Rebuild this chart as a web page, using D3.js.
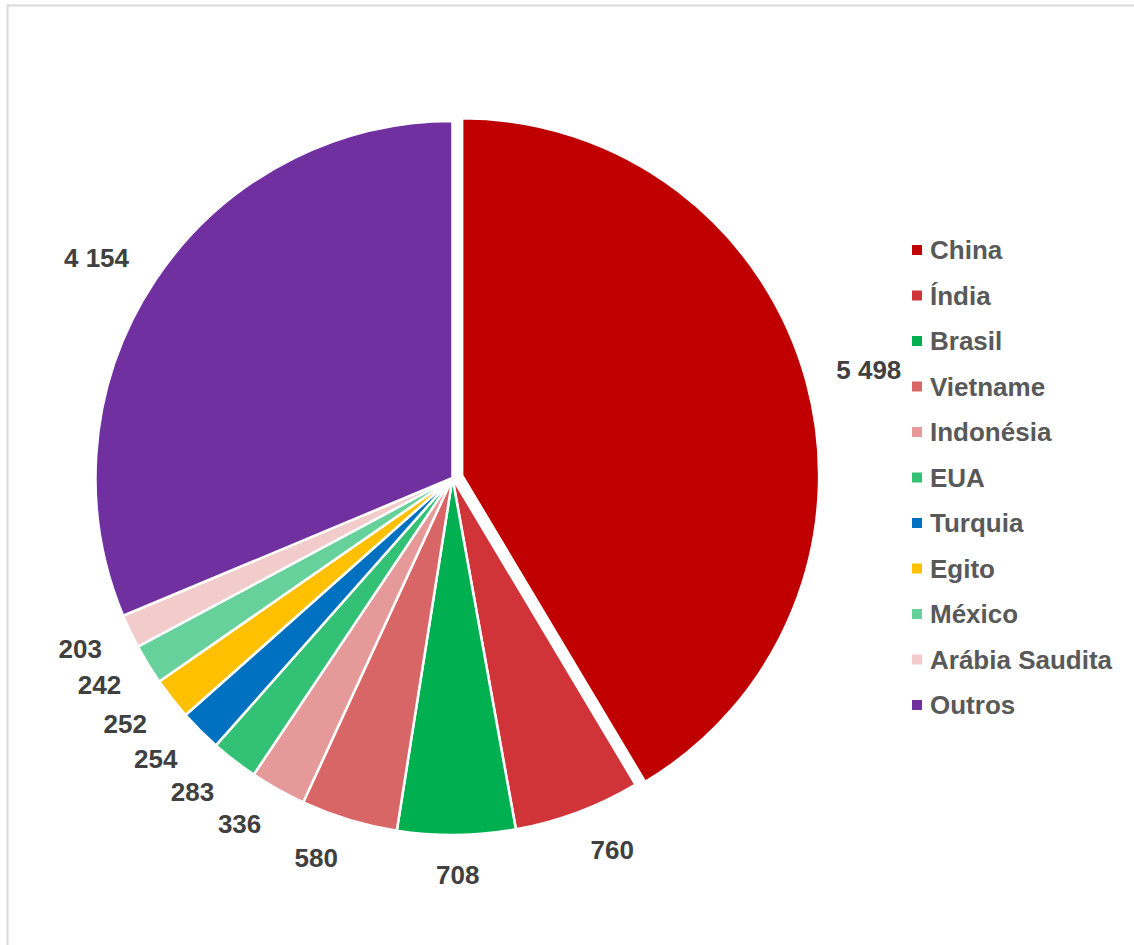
<!DOCTYPE html>
<html>
<head>
<meta charset="utf-8">
<script src="https://cdn.jsdelivr.net/npm/d3@7"></script>
<style>
  html, body { margin: 0; padding: 0; background: #ffffff; }
  svg { display: block; }
</style>
</head>
<body>
<svg id="chart" width="1134" height="945"></svg>
<script>
// Country shares (thousand tonnes)
const countries = ["China", "Índia", "Brasil", "Vietname", "Indonésia", "EUA", "Turquia", "Egito", "México", "Arábia Saudita", "Outros"];
const values = [5498, 760, 708, 580, 336, 283, 254, 252, 242, 203, 4154];
const colors = ["#C00000", "#D13438", "#00B050", "#D96666", "#E69999", "#33C175", "#0070C0", "#FFC000", "#66D19A", "#F2CBCB", "#7030A0"];
const explodedIndex = 0;

const svg = d3.select("#chart");
const font = "'Liberation Sans', Arial, sans-serif";

// Chart frame
svg.append("rect")
  .attr("x", 7.5).attr("y", 5.5)
  .attr("width", 1200).attr("height", 1000)
  .attr("fill", "none")
  .attr("stroke", "#D9D9D9")
  .attr("stroke-width", 2);

const cx = 452.5, cy = 478, r = 357, explode = 10;

const color = d3.scaleOrdinal().domain(countries).range(colors);

const data = countries.map((c, i) => ({ name: c, value: values[i], i }));
const pie = d3.pie().value(d => d.value).sort(null);
const arcs = pie(data);
const arc = d3.arc().innerRadius(0).outerRadius(r);

const g = svg.append("g").attr("transform", `translate(${cx},${cy})`);

const offsetOf = d => {
  const a = (d.startAngle + d.endAngle) / 2;
  const k = d.data.i === explodedIndex ? explode : 0;
  return [Math.sin(a) * k, -Math.cos(a) * k];
};

g.selectAll("path.slice")
  .data(arcs)
  .join("path")
  .attr("class", "slice")
  .attr("d", arc)
  .attr("transform", d => `translate(${offsetOf(d)})`)
  .attr("fill", d => color(d.data.name))
  .attr("stroke", "#ffffff")
  .attr("stroke-width", 2.5)
  .attr("stroke-linejoin", "round");

// Value labels placed just outside each slice: the box is pushed outward
// from a point on the slice bisector so it never overlaps the pie.
const fmt = v => d3.format(",")(v).replace(/,/g, " ");
const labelDist = r + 28, halfH = 12, padX = 3;

g.selectAll("text.val")
  .data(arcs)
  .join("text")
  .attr("class", "val")
  .attr("font-family", font)
  .attr("font-weight", "bold")
  .attr("font-size", 26)
  .attr("fill", "#404040")
  .attr("text-anchor", "middle")
  .attr("dy", "0.35em")
  .text(d => fmt(d.data.value))
  .each(function(d) {
    const w = this.getComputedTextLength();
    const a = (d.startAngle + d.endAngle) / 2;
    const s = Math.sin(a), c = -Math.cos(a);
    const [ox, oy] = offsetOf(d);
    const px = ox + s * labelDist, py = oy + c * labelDist;
    const sx = Math.sign(s) * Math.min(1, Math.abs(s) * 4) * (w / 2 + padX);
    const sy = c * halfH;
    d3.select(this).attr("x", px + sx).attr("y", py + sy);
  });

// Legend
const legend = svg.append("g").attr("transform", "translate(912,250)");
const rowH = 45.5;
const rows = legend.selectAll("g.row")
  .data(countries)
  .join("g")
  .attr("class", "row")
  .attr("transform", (d, i) => `translate(0,${i * rowH})`);

rows.append("rect")
  .attr("x", 0).attr("y", -5)
  .attr("width", 10).attr("height", 10)
  .attr("fill", d => color(d));

rows.append("text")
  .attr("x", 18)
  .attr("dy", "0.35em")
  .attr("font-family", font)
  .attr("font-weight", "bold")
  .attr("font-size", 26)
  .attr("fill", "#595959")
  .text(d => d);
</script>
</body>
</html>
